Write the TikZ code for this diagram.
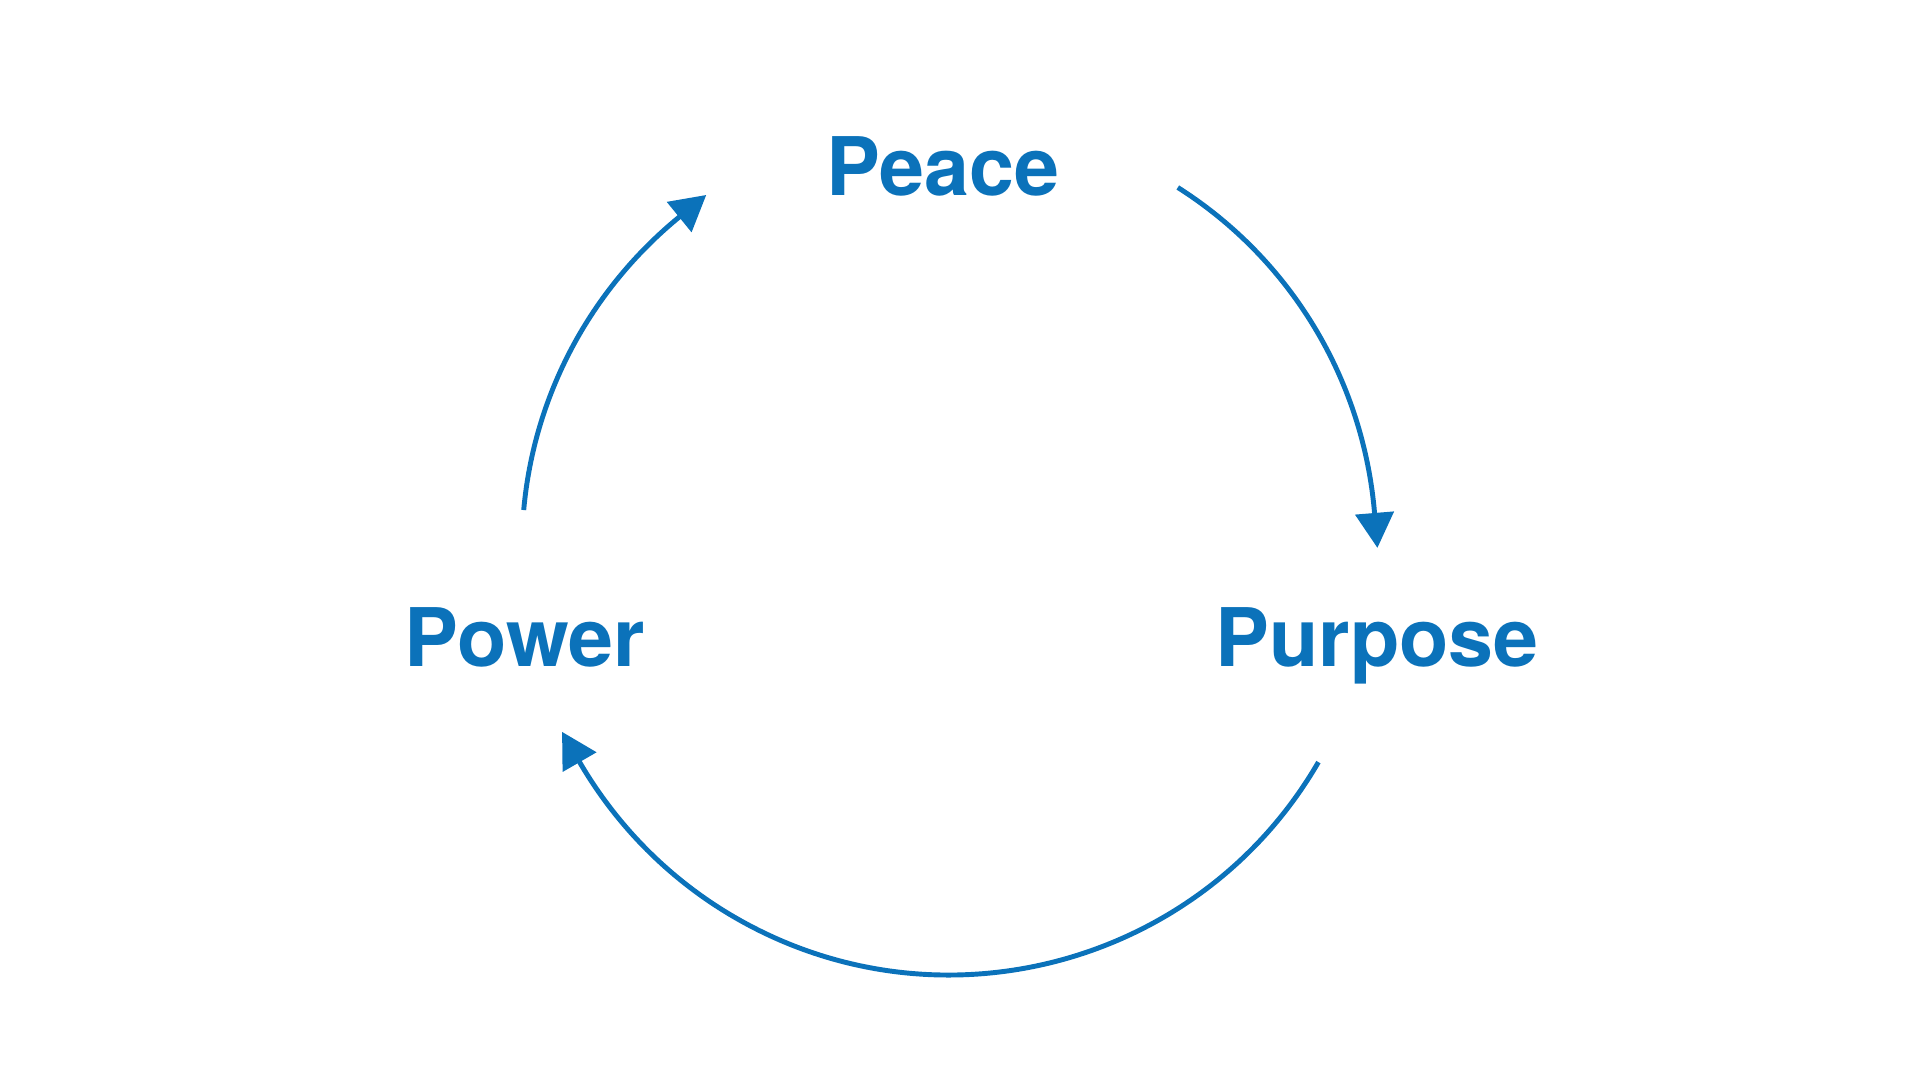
\documentclass[tikz,border=0pt]{standalone}
\usepackage{fontspec}
\usepackage{xcolor}
\setmainfont{TeX Gyre Heros}
\usetikzlibrary{arrows.meta,calc}

\definecolor{cycleblue}{HTML}{0B72BA}

\begin{document}
\begin{tikzpicture}
                \useasboundingbox (0,0) rectangle (19.2,10.8);

                \begin{scope}[every node/.style = {anchor=base, inner sep=0pt, text=cycleblue, font=\fontsize{23}{28}\selectfont\bfseries}]
                    \node (peace)   at (9.43, 8.84) {Peace};
                    \node (power)   at (5.25, 4.13) {Power};
                    \node (purpose) at (13.77,4.13) {Purpose};
                \end{scope}

                % centre of the cycle and the ends of the arcs
                \coordinate (O) at (9.49,5.32);
                \coordinate (peace out)   at ($(O)+(57.6:4.27)$);
                \coordinate (purpose out) at ($(O)+(-30.1:4.27)$);
                \coordinate (power out)   at ($(O)+(174.9:4.27)$);

                % each arc stops at the back of its tip, the tip goes on along the tangent
                \begin{scope}[>={Triangle[length=0.35cm, width=0.38cm, sep=-0.35cm]},
                                every path/.style={draw=cycleblue, fill=none, line width=1.4pt}]
                    \draw [->] (peace out)   arc[start angle=57.6,  end angle=4.7,    radius=4.27];
                    \draw [->] (purpose out) arc[start angle=-30.1, end angle=-149.9, radius=4.27];
                    \draw [->] (power out)   arc[start angle=174.9, end angle=129.2,  radius=4.27];
                \end{scope}
            \end{tikzpicture}
\end{document}
